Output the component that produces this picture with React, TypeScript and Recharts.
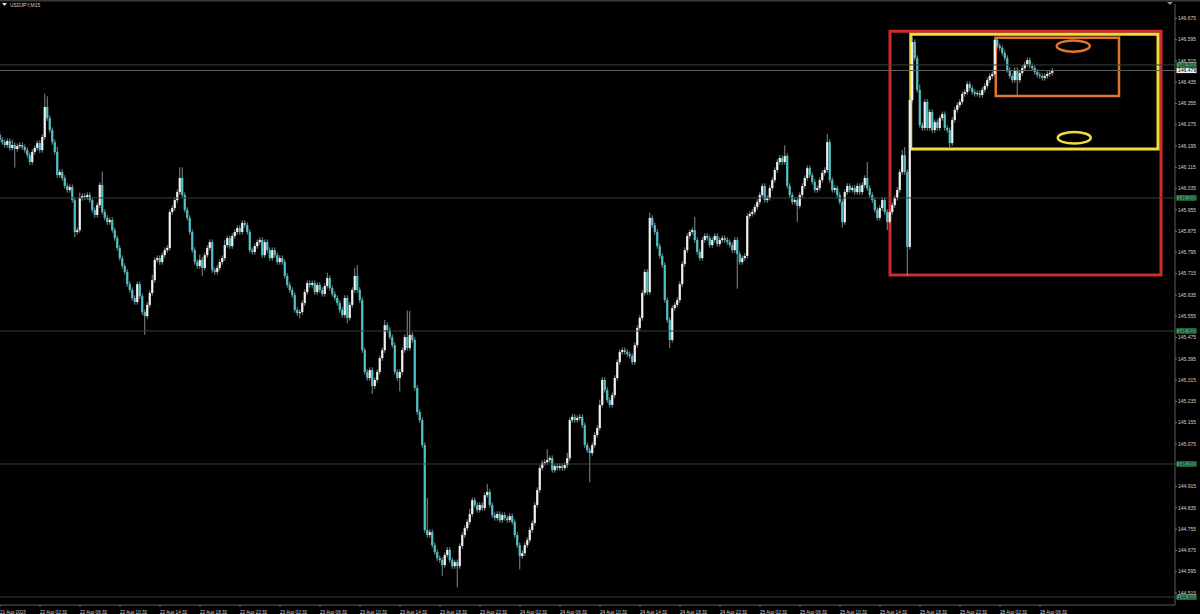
import React from 'react';
import {
  ComposedChart,
  Bar,
  XAxis,
  YAxis,
  ReferenceLine,
  ReferenceArea,
  ReferenceDot,
} from 'recharts';

const symbol = 'USDJPY,M15';
const firstOpen = 146.237;

// closes per trading day (M15), wicks in pips beyond the body
const aug21Close = [146.218, 146.21, 146.199, 146.214, 146.188, 146.199];
const aug21Up = [1, 1, 1, 1, 1, 2];
const aug21Down = [1, 1, 1, 1, 1, 1];

const aug22Close = [
  146.184, 146.195, 146.199, 146.191, 146.18, 146.161, 146.135, 146.173, 146.188, 146.206,
  146.18, 146.229, 146.342, 146.3, 146.255, 146.21, 146.173, 146.086, 146.097, 146.075,
  146.045, 146.03, 146.041, 145.992, 145.872, 145.879, 146.0, 146.007, 146.003, 146.011,
  145.992, 145.955, 145.936, 145.973, 146.049, 145.947, 145.925, 145.909, 145.917, 145.879,
  145.849, 145.812, 145.774, 145.744, 145.722, 145.676, 145.654, 145.624, 145.609, 145.676,
  145.631, 145.571, 145.556, 145.598, 145.643, 145.691, 145.767, 145.774, 145.759, 145.785,
  145.804, 145.812, 145.947, 145.962, 145.992, 146.022, 146.075, 146.011, 145.955, 145.925,
  145.872, 145.804, 145.759, 145.744, 145.767, 145.737, 145.785, 145.812, 145.834, 145.729,
  145.722, 145.737, 145.759, 145.774, 145.823, 145.849, 145.819, 145.857, 145.872, 145.887,
  145.872, 145.906, 145.898, 145.872, 145.804, 145.797,
];
const aug22Up = [
  1, 1, 1, 1, 1, 1, 1, 1, 1, 1,
  1, 1, 5, 4, 1, 1, 1, 2, 1, 1,
  1, 1, 1, 1, 1, 1, 2, 1, 1, 1,
  1, 1, 1, 1, 1, 5, 1, 1, 1, 1,
  1, 1, 1, 1, 1, 1, 1, 1, 1, 1,
  1, 1, 1, 1, 1, 2, 1, 1, 1, 1,
  1, 1, 1, 1, 1, 1, 4, 4, 1, 1,
  1, 1, 1, 1, 2, 1, 1, 1, 1, 1,
  1, 1, 1, 1, 2, 1, 1, 1, 1, 1,
  1, 1, 1, 1, 1, 1,
];
const aug22Down = [
  7, 1, 1, 1, 1, 1, 1, 1, 1, 1,
  1, 1, 1, 1, 1, 1, 1, 1, 1, 1,
  1, 1, 1, 1, 2, 1, 1, 1, 1, 1,
  1, 1, 1, 1, 1, 1, 1, 1, 1, 1,
  1, 1, 1, 1, 1, 1, 1, 1, 1, 1,
  1, 1, 7, 1, 1, 1, 1, 1, 1, 1,
  1, 1, 1, 1, 1, 1, 1, 1, 1, 1,
  1, 1, 1, 1, 1, 3, 1, 1, 1, 1,
  1, 1, 1, 1, 1, 1, 1, 1, 1, 1,
  1, 1, 1, 1, 1, 1,
];

const aug23Close = [
  145.819, 145.834, 145.842, 145.785, 145.834, 145.804, 145.774, 145.804, 145.785, 145.759,
  145.774, 145.759, 145.707, 145.673, 145.654, 145.635, 145.579, 145.567, 145.571, 145.605,
  145.646, 145.68, 145.673, 145.68, 145.646, 145.673, 145.654, 145.639, 145.669, 145.699,
  145.661, 145.639, 145.624, 145.605, 145.579, 145.56, 145.624, 145.549, 145.598, 145.654,
  145.707, 145.654, 145.616, 145.428, 145.346, 145.323, 145.353, 145.293, 145.316, 145.346,
  145.398, 145.428, 145.522, 145.504, 145.477, 145.447, 145.346, 145.323, 145.346, 145.428,
  145.477, 145.436, 145.485, 145.466, 145.286, 145.195, 145.165, 145.071, 144.752, 144.733,
  144.744, 144.695, 144.669, 144.646, 144.639, 144.62, 144.658, 144.677, 144.639, 144.616,
  144.631, 144.616, 144.692, 144.733, 144.759, 144.782, 144.812, 144.864, 144.846, 144.827,
  144.846, 144.834, 144.883, 144.895, 144.846, 144.808,
];
const aug23Up = [
  1, 1, 1, 1, 1, 1, 1, 1, 1, 1,
  1, 1, 1, 1, 1, 1, 1, 1, 1, 1,
  1, 1, 1, 1, 1, 1, 1, 1, 1, 2,
  1, 1, 1, 1, 1, 1, 1, 1, 1, 1,
  3, 4, 1, 1, 1, 1, 1, 1, 1, 1,
  1, 1, 2, 1, 1, 1, 1, 1, 1, 1,
  1, 10, 9, 1, 1, 1, 1, 1, 1, 12,
  1, 1, 1, 1, 1, 1, 1, 1, 1, 1,
  1, 1, 1, 1, 1, 1, 2, 1, 1, 1,
  1, 1, 1, 3, 1, 1,
];
const aug23Down = [
  1, 1, 1, 1, 1, 1, 1, 1, 1, 1,
  1, 1, 1, 1, 1, 1, 1, 1, 2, 1,
  1, 1, 1, 1, 1, 1, 1, 1, 1, 1,
  1, 1, 1, 1, 1, 1, 1, 2, 1, 1,
  1, 1, 1, 1, 1, 1, 1, 3, 1, 1,
  1, 1, 1, 1, 1, 1, 1, 1, 5, 1,
  1, 1, 1, 1, 1, 1, 1, 1, 1, 1,
  1, 1, 1, 1, 1, 4, 1, 1, 1, 1,
  1, 8, 1, 1, 1, 1, 1, 1, 1, 1,
  1, 1, 1, 1, 1, 1,
];

const aug24Close = [
  144.797, 144.812, 144.789, 144.808, 144.797, 144.789, 144.804, 144.782, 144.733, 144.695,
  144.654, 144.665, 144.695, 144.714, 144.752, 144.778, 144.846, 144.902, 144.985, 145.004,
  145.007, 145.015, 145.022, 144.977, 144.992, 144.985, 144.992, 144.985, 144.996, 145.022,
  145.165, 145.177, 145.165, 145.173, 145.177, 145.146, 145.071, 145.052, 145.041, 145.071,
  145.109, 145.135, 145.222, 145.316, 145.278, 145.24, 145.222, 145.259, 145.323, 145.383,
  145.421, 145.428, 145.421, 145.413, 145.406, 145.383, 145.447, 145.511, 145.549, 145.643,
  145.722, 145.646, 145.925, 145.898, 145.872, 145.819, 145.782, 145.748, 145.616, 145.541,
  145.466, 145.586, 145.598, 145.616, 145.676, 145.752, 145.804, 145.857, 145.872, 145.879,
  145.842, 145.797, 145.774, 145.842, 145.857, 145.849, 145.823, 145.842, 145.857, 145.827,
  145.842, 145.849, 145.842, 145.834, 145.823, 145.804,
];
const aug24Up = [
  1, 1, 1, 1, 1, 1, 1, 1, 1, 1,
  1, 1, 1, 1, 1, 1, 1, 1, 1, 1,
  1, 4, 1, 1, 1, 1, 1, 1, 1, 2,
  1, 1, 1, 1, 1, 1, 1, 1, 1, 1,
  1, 1, 2, 1, 1, 1, 1, 1, 1, 1,
  1, 1, 1, 1, 1, 1, 1, 1, 1, 1,
  1, 1, 2, 1, 1, 1, 1, 1, 1, 1,
  1, 1, 1, 1, 1, 1, 1, 1, 1, 1,
  5, 1, 1, 1, 1, 1, 1, 1, 1, 1,
  1, 1, 1, 1, 1, 1,
];
const aug24Down = [
  1, 1, 1, 1, 1, 1, 1, 1, 1, 1,
  5, 1, 1, 1, 1, 1, 1, 1, 1, 1,
  1, 1, 1, 1, 1, 1, 1, 1, 1, 1,
  1, 1, 1, 1, 1, 1, 1, 1, 11, 1,
  1, 1, 1, 1, 1, 1, 1, 1, 1, 1,
  1, 1, 1, 1, 1, 1, 1, 1, 1, 1,
  1, 1, 1, 1, 1, 1, 1, 1, 1, 1,
  3, 1, 1, 1, 1, 1, 1, 1, 1, 1,
  1, 1, 1, 1, 1, 1, 1, 1, 1, 1,
  1, 1, 1, 1, 1, 1,
];

const aug25Close = [
  145.842, 145.789, 145.759, 145.774, 145.782, 145.932, 145.94, 145.947, 145.966, 145.985,
  146.011, 146.045, 145.992, 146.0, 146.037, 146.067, 146.105, 146.135, 146.15, 146.135,
  146.158, 146.045, 146.011, 145.985, 145.992, 145.97, 146.011, 146.045, 146.075, 146.112,
  146.086, 146.06, 146.03, 146.037, 146.067, 146.094, 146.105, 146.21, 146.067, 146.03,
  146.037, 146.011, 145.985, 145.909, 146.022, 146.045, 146.03, 146.037, 146.022, 146.045,
  146.022, 146.049, 146.075, 146.037, 146.011, 145.992, 145.955, 145.925, 145.962, 145.992,
  145.947, 145.909, 145.947, 145.973, 146.0, 146.03, 146.097, 146.161, 146.097, 145.816,
  146.368, 146.586, 146.526, 146.406, 146.274, 146.263, 146.361, 146.263, 146.323, 146.255,
  146.285, 146.263, 146.3, 146.315, 146.263, 146.255, 146.206, 146.293, 146.331, 146.349,
  146.361, 146.391, 146.398, 146.428, 146.413, 146.398,
];
const aug25Up = [
  1, 1, 1, 1, 1, 1, 1, 1, 1, 1,
  1, 1, 1, 1, 1, 1, 1, 1, 1, 1,
  4, 1, 1, 1, 1, 1, 1, 1, 1, 1,
  1, 1, 1, 1, 1, 1, 1, 3, 1, 1,
  1, 1, 1, 1, 1, 1, 1, 1, 1, 1,
  1, 1, 1, 6, 1, 1, 1, 1, 1, 1,
  1, 1, 1, 1, 1, 1, 1, 2, 3, 1,
  2, 2, 1, 1, 2, 1, 1, 1, 1, 1,
  1, 1, 1, 1, 1, 1, 1, 1, 1, 1,
  1, 1, 1, 1, 1, 1,
];
const aug25Down = [
  1, 13, 1, 1, 1, 1, 1, 1, 1, 1,
  1, 1, 1, 1, 1, 1, 1, 1, 1, 1,
  1, 1, 1, 1, 1, 6, 1, 1, 1, 1,
  1, 1, 1, 1, 1, 1, 1, 1, 1, 1,
  1, 1, 1, 2, 1, 1, 1, 1, 1, 1,
  1, 1, 1, 1, 1, 1, 1, 1, 1, 1,
  1, 3, 1, 1, 1, 1, 1, 1, 1, 11,
  1, 1, 1, 1, 1, 1, 1, 1, 1, 1,
  1, 1, 1, 1, 1, 1, 2, 1, 1, 1,
  1, 1, 1, 1, 1, 1,
];

const aug28Close = [
  146.391, 146.394, 146.387, 146.406, 146.421, 146.443, 146.458, 146.466, 146.594, 146.571,
  146.564, 146.545, 146.526, 146.481, 146.458, 146.443, 146.481, 146.443, 146.47, 146.488,
  146.503, 146.518, 146.496, 146.488, 146.473, 146.462, 146.458, 146.451, 146.458, 146.466,
  146.47, 146.479,
];
const aug28Up = [
  1, 1, 1, 1, 1, 1, 1, 1, 1, 1,
  1, 1, 1, 1, 1, 1, 1, 1, 1, 1,
  1, 1, 1, 1, 1, 1, 1, 1, 1, 1,
  1, 1,
];
const aug28Down = [
  1, 1, 1, 1, 1, 1, 1, 1, 1, 1,
  1, 1, 1, 1, 1, 1, 1, 6, 1, 1,
  1, 1, 1, 1, 1, 1, 1, 1, 1, 1,
  1, 1,
];

const timeLabels = [
  '21 Aug 2023', '22 Aug 02:30', '22 Aug 06:30', '22 Aug 10:30', '22 Aug 14:30',
  '22 Aug 18:30', '22 Aug 22:30', '23 Aug 02:30', '23 Aug 06:30', '23 Aug 10:30',
  '23 Aug 14:30', '23 Aug 18:30', '23 Aug 22:30', '24 Aug 02:30', '24 Aug 06:30',
  '24 Aug 10:30', '24 Aug 14:30', '24 Aug 18:30', '24 Aug 22:30', '25 Aug 02:30',
  '25 Aug 06:30', '25 Aug 10:30', '25 Aug 14:30', '25 Aug 18:30', '25 Aug 22:30',
  '28 Aug 02:30', '28 Aug 06:30',
];
const barsPerLabel = 16;

const priceTicks = [
  146.675, 146.595, 146.515, 146.435, 146.355, 146.275, 146.195, 146.115, 146.035,
  145.955, 145.875, 145.795, 145.715, 145.635, 145.555, 145.475, 145.395, 145.315,
  145.235, 145.155, 145.075, 144.915, 144.835, 144.755, 144.675, 144.595, 144.515,
];
const levels = [146.5, 146.0, 145.5, 145.0, 144.5];
const bid = 146.479;

// drawn objects, in bar index / price units
const redBox = { x1: 356, x2: 464.4, y1: 145.71, y2: 146.627 };
const yellowBox = { x1: 364.3, x2: 463.2, y1: 146.184, y2: 146.615 };
const orangeBox = { x1: 398.3, x2: 447.6, y1: 146.383, y2: 146.602 };
const orangeMark = { x: 429.3, y: 146.571 };
const yellowMark = { x: 429.7, y: 146.226 };

const days = [
  [aug21Close, aug21Up, aug21Down],
  [aug22Close, aug22Up, aug22Down],
  [aug23Close, aug23Up, aug23Down],
  [aug24Close, aug24Up, aug24Down],
  [aug25Close, aug25Up, aug25Down],
  [aug28Close, aug28Up, aug28Down],
];

const candles: any[] = [];
let prevClose = firstOpen;
days.forEach(([closes, ups, downs]) => {
  closes.forEach((close, k) => {
    const open = prevClose;
    const high = Math.max(open, close) + ups[k] / 100;
    const low = Math.min(open, close) - downs[k] / 100;
    candles.push({ i: candles.length, open, close, high, low, range: [low, high] });
    prevClose = close;
  });
});

const tickBars = timeLabels.map((_, k) => k * barsPerLabel);
const font = '"Liberation Sans", Arial, sans-serif';

function Candle(props: any) {
  const { x, y, width, height, payload } = props;
  if (!payload || !height) return null;
  const { open, close, high, low } = payload;
  const cx = x + width / 2;
  const py = (p: number) => y + ((high - p) / (high - low)) * height;
  const top = py(Math.max(open, close));
  const bottom = py(Math.min(open, close));
  const color = close >= open ? '#f0f0f0' : '#4fc3cb';
  return (
    <g>
      <line x1={cx} x2={cx} y1={y} y2={y + height} stroke="#858d8d" strokeWidth={1} />
      <rect x={cx - 1.1} y={top} width={2.2} height={Math.max(0.9, bottom - top)} fill={color} />
    </g>
  );
}

function TimeTick(props: any) {
  const { x, y, payload } = props;
  const label = timeLabels[Math.round(payload.value / barsPerLabel)];
  return (
    <text x={x} y={y + 4.5} fontSize={4.6} fontFamily={font} fill="#d2d2d2" textAnchor="start">
      {label}
    </text>
  );
}

function PriceTick(props: any) {
  const { x, y, payload } = props;
  return (
    <text x={x} y={y + 1.7} fontSize={5} fontFamily={font} fill="#d2d2d2" textAnchor="start">
      {payload.value.toFixed(3)}
    </text>
  );
}

function priceTag(value: number, bg: string, fg: string) {
  return (p: any) => {
    const vb = p.viewBox || {};
    const left = vb.x + vb.width + 1.5;
    return (
      <g>
        <rect x={left} y={vb.y - 2.6} width={20} height={5.2} fill={bg} />
        <text x={left + 1.5} y={vb.y + 1.7} fontSize={5} fontFamily={font} fill={fg}>
          {value.toFixed(3)}
        </text>
      </g>
    );
  };
}

export default function App() {
  return (
    <div style={{ position: 'relative', width: 1200, height: 614, background: '#000' }}>
      <style>{'body{margin:0;background:#000;}'}</style>
      <ComposedChart
        width={1200}
        height={614}
        data={candles}
        margin={{ top: 4, right: 0, bottom: 0, left: 0 }}
      >
        <XAxis
          type="number"
          dataKey="i"
          domain={[0, 470]}
          ticks={tickBars}
          interval={0}
          allowDataOverflow
          height={9}
          tickSize={2}
          tickLine={{ stroke: '#707070' }}
          axisLine={{ stroke: '#5c5c5c' }}
          tick={TimeTick}
        />
        <YAxis
          orientation="right"
          type="number"
          domain={[144.47, 146.729]}
          ticks={priceTicks}
          interval={0}
          allowDataOverflow
          width={25}
          tickSize={2}
          tickMargin={1}
          tickLine={{ stroke: '#707070' }}
          axisLine={{ stroke: '#5c5c5c' }}
          tick={PriceTick}
        />
        {levels.map((lv) => (
          <ReferenceLine
            key={lv}
            y={lv}
            stroke="#34413a"
            strokeWidth={1}
            label={priceTag(lv, '#3d9c63', '#0c2615')}
          />
        ))}
        <ReferenceLine y={bid} stroke="#5e5e5e" strokeWidth={1} label={priceTag(bid, '#f2f2f2', '#000')} />
        <Bar dataKey="range" barSize={2} shape={Candle} isAnimationActive={false} />
        <ReferenceArea {...redBox} fill="none" stroke="#cf2a2c" strokeWidth={3} />
        <ReferenceArea {...yellowBox} fill="none" stroke="#f0dd3c" strokeWidth={3} />
        <ReferenceArea {...orangeBox} fill="none" stroke="#e0752e" strokeWidth={2.5} />
        <ReferenceDot
          {...orangeMark}
          r={6}
          shape={(p: any) => (
            <ellipse cx={p.cx} cy={p.cy} rx={16.5} ry={5.6} fill="none" stroke="#e0752e" strokeWidth={2.5} />
          )}
        />
        <ReferenceDot
          {...yellowMark}
          r={6}
          shape={(p: any) => (
            <ellipse cx={p.cx} cy={p.cy} rx={16.5} ry={5.8} fill="none" stroke="#f0dd3c" strokeWidth={2.5} />
          )}
        />
      </ComposedChart>
      <svg
        width={1200}
        height={10}
        style={{ position: 'absolute', left: 0, top: 0, pointerEvents: 'none' }}
      >
        <rect x={0} y={0} width={1200} height={1.5} fill="#3a3a3a" />
        <polygon points="2,3 7,3 4.5,6" fill="#e0e0e0" />
        <text x={10} y={7} fontSize={5} fontFamily={font} fill="#cfcfcf">
          {symbol}
        </text>
        <polygon points="1167,2 1173,2 1170,5" fill="#8a8a8a" />
      </svg>
    </div>
  );
}
